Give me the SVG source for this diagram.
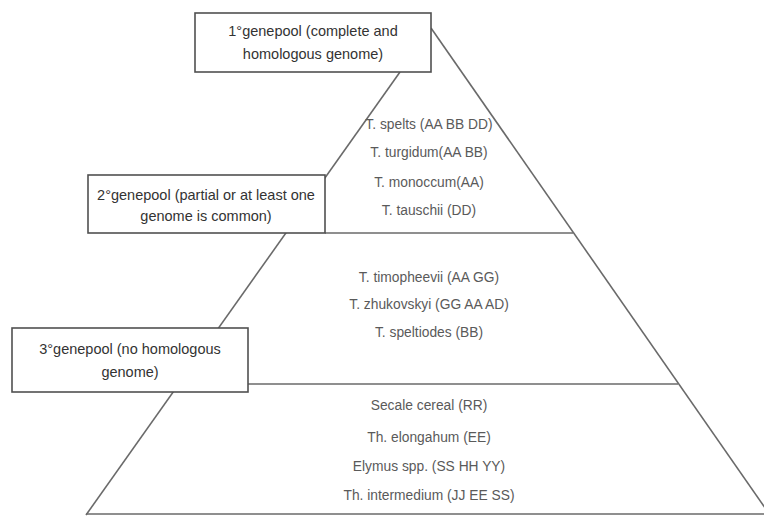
<svg xmlns="http://www.w3.org/2000/svg" width="764" height="516" viewBox="0 0 764 516">
  <style>
    .edge { stroke: #6a6a6a; stroke-width: 1.6; fill: none; }
    .box { fill: #ffffff; stroke: #505050; stroke-width: 1.6; }
    .boxtxt { font-family: "Liberation Sans", Arial, sans-serif; font-size: 14.5px; fill: #333333; text-anchor: middle; }
    .sp { font-family: "Liberation Sans", Arial, sans-serif; font-size: 13.8px; fill: #5a5a5a; text-anchor: middle; }
  </style>
  <rect width="764" height="516" fill="#ffffff"/>
  <g id="connectors">
    <line class="edge" x1="431" y1="28" x2="770" y2="515"/>
    <line class="edge" x1="400" y1="72" x2="86" y2="515"/>
    <line class="edge" x1="325" y1="233" x2="573" y2="233"/>
    <line class="edge" x1="248" y1="384" x2="678" y2="384"/>
    <line class="edge" x1="86" y1="514" x2="764" y2="514"/>
  </g>
  <g id="tier1-species">
    <text class="sp" x="429" y="129">T. spelts (AA BB DD)</text>
    <text class="sp" x="429" y="157">T. turgidum(AA BB)</text>
    <text class="sp" x="429" y="187">T. monoccum(AA)</text>
    <text class="sp" x="429" y="215">T. tauschii (DD)</text>
  </g>
  <g id="tier2-species">
    <text class="sp" x="429" y="282">T. timopheevii (AA GG)</text>
    <text class="sp" x="429" y="309">T. zhukovskyi (GG AA AD)</text>
    <text class="sp" x="429" y="337">T. speltiodes (BB)</text>
  </g>
  <g id="tier3-species">
    <text class="sp" x="429" y="410">Secale cereal (RR)</text>
    <text class="sp" x="429" y="442">Th. elongahum (EE)</text>
    <text class="sp" x="429" y="471">Elymus spp. (SS HH YY)</text>
    <text class="sp" x="429" y="500">Th. intermedium (JJ EE SS)</text>
  </g>
  <g id="primary-genepool">
    <rect class="box" x="195" y="13" width="236" height="59" stroke-width="2"/>
    <text class="boxtxt" x="313" y="36">1°genepool (complete and</text>
    <text class="boxtxt" x="313" y="59">homologous genome)</text>
  </g>
  <g id="secondary-genepool">
    <rect class="box" x="88" y="175" width="237" height="58"/>
    <text class="boxtxt" x="206" y="200">2°genepool (partial or at least one</text>
    <text class="boxtxt" x="206" y="221">genome is common)</text>
  </g>
  <g id="tertiary-genepool">
    <rect class="box" x="12" y="328" width="236" height="64"/>
    <text class="boxtxt" x="130" y="354">3°genepool (no homologous</text>
    <text class="boxtxt" x="130" y="377">genome)</text>
  </g>
</svg>
